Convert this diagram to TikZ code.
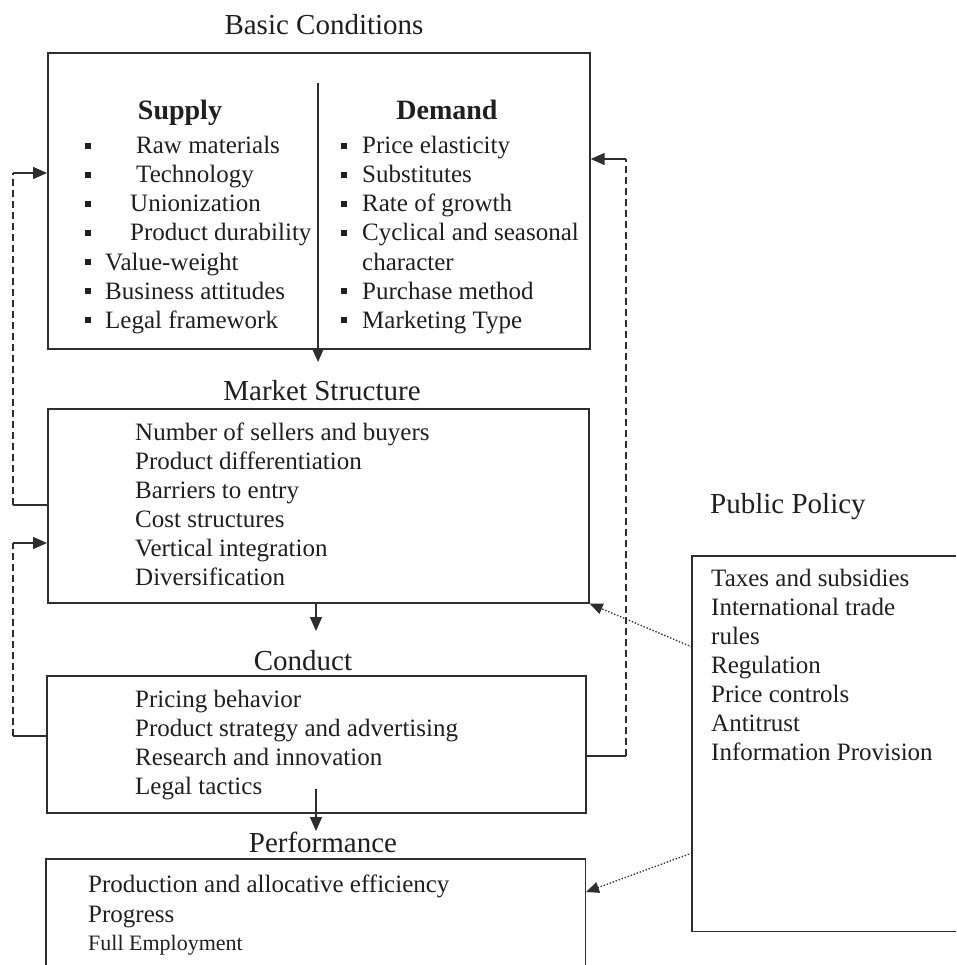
\documentclass[tikz,border=0pt]{standalone}
\usepackage{fontspec}
\setmainfont{Liberation Serif}
\usetikzlibrary{arrows.meta}
\definecolor{ink}{gray}{0.18}
\definecolor{txt}{gray}{0.12}
\begin{document}
\begin{tikzpicture}[x=1pt,y=-1pt,
  box/.style={draw=ink, line width=1.7pt, rectangle, inner sep=0pt, anchor=north west},
  openbox/.style={rectangle, inner sep=0pt, anchor=north west},
  edge/.style={draw=ink, line width=1.7pt},
  ttl/.style={font=\fontsize{29}{34}\selectfont, text=txt, inner sep=0pt, anchor=base},
  itm/.style={font=\fontsize{25}{29}\selectfont, text=txt, inner sep=0pt, anchor=base west},
  hdr/.style={font=\fontsize{28}{32}\selectfont\bfseries, text=txt, inner sep=0pt, anchor=base},
  bul/.style={fill=txt, rectangle, minimum size=6.5pt, inner sep=0pt},
  conn/.style={draw=ink, line width=1.5pt},
  arrowhd/.style={-{Triangle[length=14pt,width=12pt]}},
  feedback/.style={draw=ink, line width=1.5pt, dash pattern=on 7pt off 4pt},
  policyarrow/.style={draw=ink, line width=1.3pt, dash pattern=on 1.4pt off 1.8pt,
    -{Triangle[length=13pt,width=11pt]}},
]
\useasboundingbox (0,0) rectangle (956,965);

% ---- boxes ----
\node[box, minimum width=542pt, minimum height=296pt] (bc) at (47,52) {};
\node[box, minimum width=541pt, minimum height=194pt] (ms) at (47,408) {};
\node[box, minimum width=539pt, minimum height=137pt] (cd) at (46,675) {};
% performance box: open at the bottom edge of the page
\node[openbox, minimum width=539pt, minimum height=110pt] (pf) at (46,859) {};
\draw[edge] (pf.south west) -- (pf.north west) -- (pf.north east) -- (pf.south east);
% public policy box: open at the right edge of the page
\node[openbox, minimum width=264pt, minimum height=375pt] (pp) at (692,556) {};
\draw[edge] (pp.north east) -- (pp.north west) -- (pp.south west) -- (pp.south east);

% ---- titles ----
\node[ttl] (bcT) at (324,35) {Basic Conditions};
\node[ttl] (msT) at (322,400) {Market Structure};
\node[ttl] (cdT) at (303,670) {Conduct};
\node[ttl] (pfT) at (323,852) {Performance};
\node[ttl, anchor=base west] (ppT) at (710,513) {Public Policy};

% ---- basic conditions: supply and demand ----
\node[hdr] (sup) at (180,120) {Supply};
\node[hdr] (dem) at (447,120) {Demand};
\foreach \i/\x/\t in {1/136/Raw materials, 2/136/Technology, 3/130/Unionization,
  4/130/Product durability, 5/105/Value-weight, 6/105/Business attitudes,
  7/105/Legal framework} {
  \node[itm] (s\i) at (\x,{125+29*\i}) {\t};
  \node[bul] (sb\i) at (88,{117+29*\i}) {};
}
\foreach \i/\t in {1/Price elasticity, 2/Substitutes, 3/Rate of growth,
  4/Cyclical and seasonal, 5/character, 6/Purchase method, 7/Marketing Type} {
  \node[itm] (d\i) at (362,{125+29*\i}) {\t};
}
\foreach \i in {1,2,3,4,6,7} {
  \node[bul] (db\i) at (344,{117+29*\i}) {};
}

% ---- market structure ----
\foreach \i/\t in {1/Number of sellers and buyers, 2/Product differentiation,
  3/Barriers to entry, 4/Cost structures, 5/Vertical integration, 6/Diversification} {
  \node[itm] (m\i) at (135,{411+29*\i}) {\t};
}

% ---- conduct ----
\foreach \i/\t in {1/Pricing behavior, 2/Product strategy and advertising,
  3/Research and innovation, 4/Legal tactics} {
  \node[itm] (c\i) at (135,{677.7+29.3*\i}) {\t};
}

% ---- performance ----
\node[itm] (p1) at (88,892) {Production and allocative efficiency};
\node[itm] (p2) at (88,922) {Progress};
\node[itm, font=\fontsize{22}{26}\selectfont] (p3) at (88,950) {Full Employment};

% ---- public policy ----
\foreach \i/\t in {1/Taxes and subsidies, 2/International trade, 3/rules,
  4/Regulation, 5/Price controls, 6/Antitrust, 7/Information Provision} {
  \node[itm] (q\i) at (711,{557+29*\i}) {\t};
}

% ---- main flow ----
\coordinate (divTop) at (318,83);
\coordinate (divEnd) at (318,362);
\draw[conn, arrowhd] (divTop) -- (divEnd);
\coordinate (msDown) at (316,631);
\draw[conn, arrowhd] (msDown |- ms.south) -- (msDown);
\coordinate (cdStart) at (316,789);
\coordinate (cdDown) at (316,831);
\draw[conn, arrowhd] (cdStart) -- (cdDown);

% ---- feedback loops ----
\coordinate (La) at (13,505);
\coordinate (Lb) at (13,173);
\draw[conn] (La -| ms.west) -- (La);
\draw[feedback] (La) -- (Lb);
\draw[conn, arrowhd] (Lb) -- (Lb -| bc.west);

\coordinate (Lc) at (13,736);
\coordinate (Ld) at (13,543);
\draw[conn] (Lc -| cd.west) -- (Lc);
\draw[feedback] (Lc) -- (Ld);
\draw[conn, arrowhd] (Ld) -- (Ld -| ms.west);

\coordinate (Ra) at (626,756);
\coordinate (Rb) at (626,159);
\draw[conn] (Ra -| cd.east) -- (Ra);
\draw[feedback] (Ra) -- (Rb);
\draw[conn, arrowhd] (Rb) -- (Rb -| bc.east);

% ---- policy influence ----
\coordinate (pa) at (692,647);
\draw[policyarrow] (pa) -- (ms.south east);
\coordinate (pb) at (692,853);
\coordinate (pbEnd) at (586,892);
\draw[policyarrow] (pb) -- (pbEnd);
\end{tikzpicture}
\end{document}
